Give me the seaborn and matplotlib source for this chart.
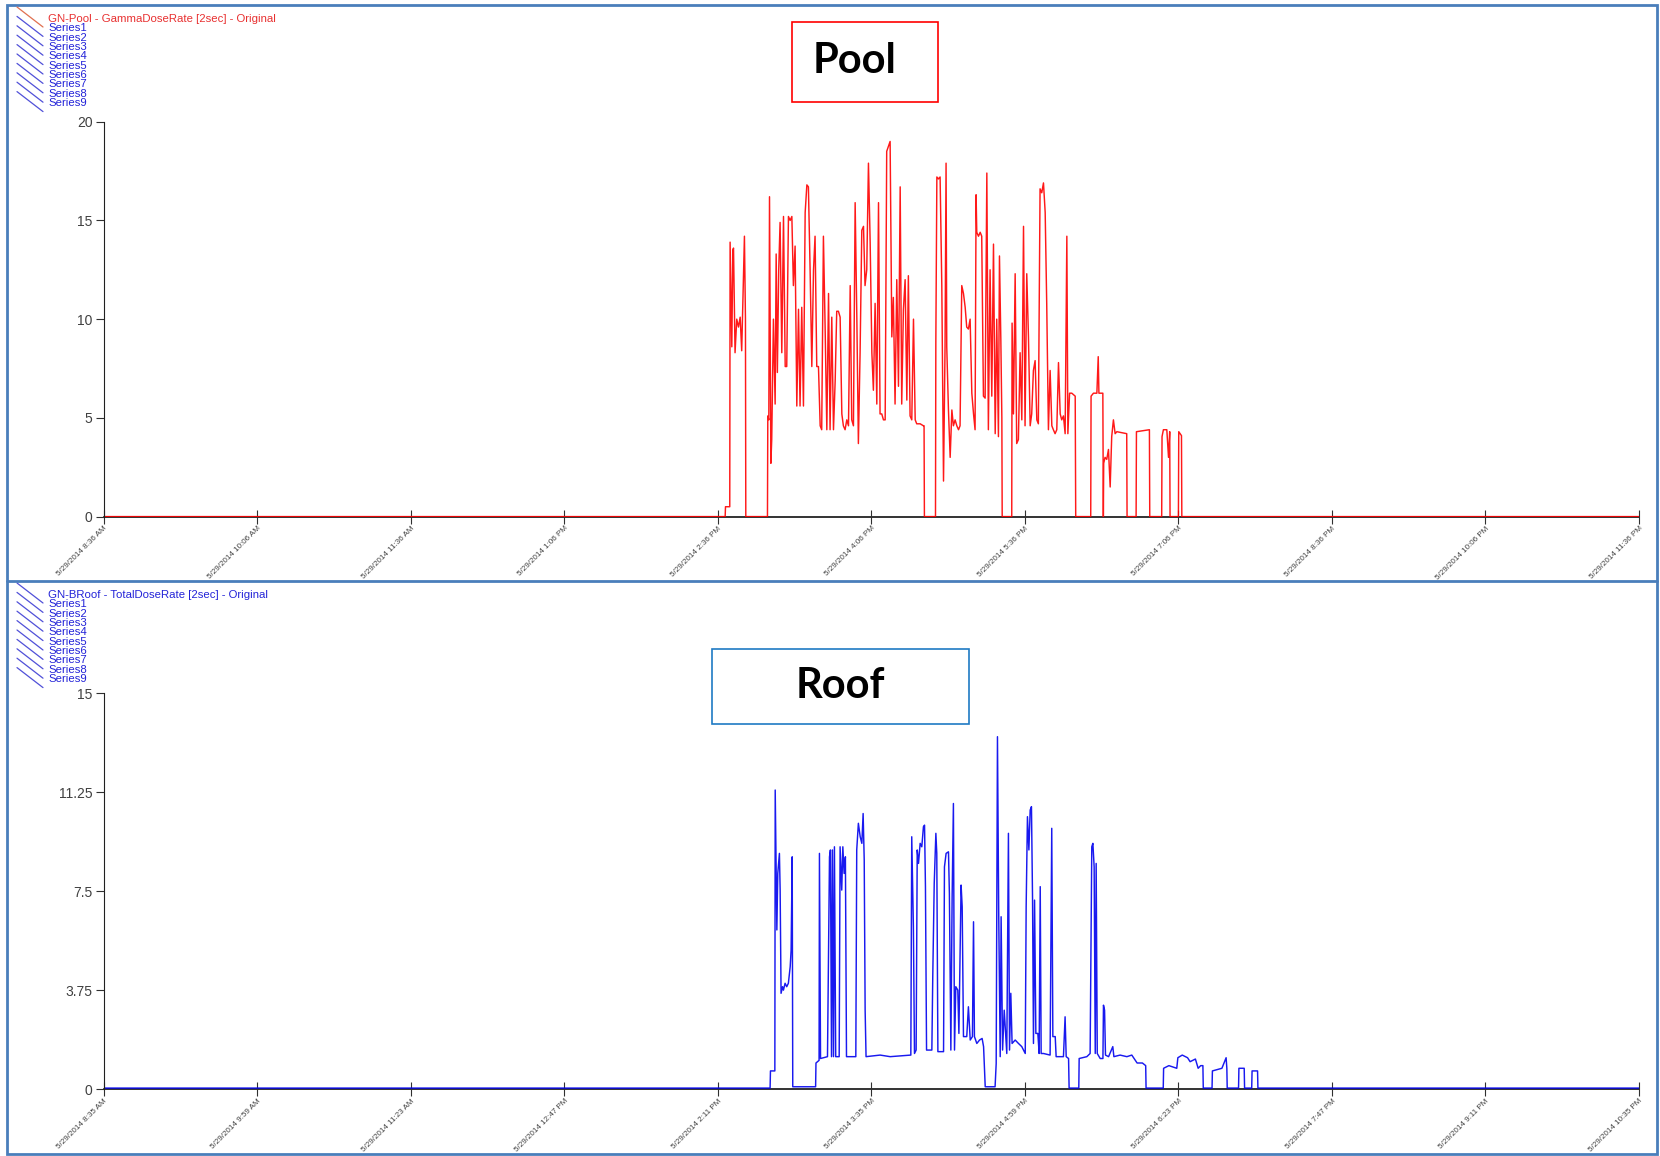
import matplotlib
matplotlib.use("Agg")
import matplotlib.pyplot as plt
from matplotlib.patches import Rectangle
from matplotlib.lines import Line2D
import numpy as np
import pandas as pd
import seaborn as sns

# Pool gamma dose rate: (minutes after 5/29/2014 8:36 AM, dose rate)
pool_trace = [
    (0, 0), (364.3, 0), (364.5, 0.5), (367.0, 0.5), (367.2, 13.9), (368.2, 8.6), (368.8, 13.5),
    (369.2, 13.6), (370.1, 8.3), (371.1, 10.0), (372.1, 9.6), (373.1, 10.1), (374.0, 8.4),
    (374.6, 10.5), (375.6, 14.2), (376.2, 10.0), (376.4, 0),
    (389.1, 0), (389.3, 5.1), (389.9, 4.9), (390.3, 16.2), (391.1, 2.7), (391.6, 3.9), (392.6, 10.0),
    (393.6, 5.7), (394.2, 13.3), (394.9, 7.3), (395.7, 12.5), (396.5, 14.9), (397.5, 8.3),
    (398.5, 15.2), (399.5, 7.6), (400.4, 7.6), (401.4, 15.2), (402.4, 15.0), (403.4, 15.2),
    (404.3, 11.7), (405.3, 13.7), (406.3, 5.6), (407.3, 10.5), (408.2, 5.6), (409.2, 10.6),
    (410.2, 5.6), (411.2, 15.4), (412.2, 16.8), (413.1, 16.7), (414.1, 12.5), (415.1, 7.6),
    (416.1, 12.5), (417.0, 14.2), (418.0, 7.6), (419.0, 7.6), (420.0, 4.6), (420.9, 4.4),
    (421.9, 14.2), (422.9, 9.6), (423.9, 4.4), (424.9, 11.3), (425.8, 4.4), (426.8, 10.1),
    (427.8, 4.4), (428.8, 6.9), (429.7, 10.4), (430.7, 10.4), (431.7, 10.1), (432.7, 5.2),
    (433.6, 4.6), (434.6, 4.4), (435.6, 4.9), (436.6, 4.6), (437.6, 11.7), (438.5, 4.9),
    (439.5, 4.6), (440.5, 15.9), (441.5, 10.0), (442.4, 3.7), (443.4, 8.3), (444.4, 14.5),
    (445.4, 14.7), (446.3, 11.7), (447.3, 12.5), (448.3, 17.9), (449.3, 13.9), (450.3, 8.3),
    (451.2, 6.4), (452.2, 10.8), (453.2, 5.7), (454.2, 15.9), (455.1, 5.2), (456.1, 5.2),
    (457.1, 4.9), (458.1, 4.9), (459.0, 18.5), (460.0, 18.75), (461.0, 19.0), (462.0, 9.1),
    (462.9, 11.1), (463.9, 5.7), (464.9, 12.0), (465.9, 6.6), (466.9, 16.7), (467.8, 5.7),
    (468.8, 10.5), (469.8, 12.0), (470.8, 5.9), (471.7, 12.2), (472.7, 5.1), (473.7, 4.9),
    (474.7, 10.0), (475.7, 4.9), (476.6, 4.7), (478.6, 4.7), (480.5, 4.6), (480.9, 4.6), (481.1, 0),
    (487.6, 0), (487.8, 8.8), (488.4, 17.2), (489.3, 17.1), (490.3, 17.2), (491.3, 11.7),
    (492.3, 1.8), (493.2, 8.6), (493.8, 17.9), (494.2, 8.6), (495.2, 5.4), (496.2, 3.0),
    (497.2, 5.4), (498.1, 4.6), (499.1, 4.9), (500.1, 4.6), (501.1, 4.4), (502.0, 4.6),
    (503.0, 11.7), (504.0, 11.3), (505.0, 10.6), (505.9, 9.6), (506.9, 9.5), (507.9, 10.0),
    (508.9, 6.25), (509.9, 5.2), (510.8, 4.4), (511.4, 16.3), (511.8, 14.4), (512.8, 14.2),
    (513.8, 14.4), (514.7, 14.2), (515.7, 6.1), (516.7, 6.0), (517.7, 17.4), (518.6, 4.4),
    (519.6, 12.5), (520.6, 6.1), (521.6, 13.8), (522.6, 4.2), (523.5, 10.0), (524.5, 4.05),
    (525.1, 13.2), (525.9, 9.0), (526.5, 5.0), (526.7, 0),
    (532.3, 0), (532.5, 9.8), (533.3, 5.2), (534.3, 12.3), (535.2, 3.7), (536.2, 3.9),
    (537.2, 8.3), (538.2, 4.9), (539.2, 14.7), (540.1, 4.6), (541.1, 12.3), (542.1, 9.1),
    (543.1, 4.6), (544.0, 5.2), (545.0, 7.4), (546.0, 7.9), (547.0, 4.9), (547.9, 4.7),
    (548.9, 16.6), (549.9, 16.4), (550.9, 16.9), (551.9, 15.4), (552.8, 10.8), (553.8, 4.4),
    (554.8, 7.4), (555.8, 4.6), (556.7, 4.4), (557.7, 4.2), (558.7, 4.4), (559.7, 7.8),
    (560.7, 5.2), (561.6, 4.9), (562.6, 5.1), (563.6, 4.2), (564.6, 14.2), (565.2, 4.2),
    (566.2, 6.25), (567.5, 6.25), (569.5, 6.1), (569.8, 0),
    (578.6, 0), (578.8, 6.1), (580.2, 6.25), (582.2, 6.25), (583.0, 8.1), (583.4, 6.25),
    (585.7, 6.25), (586.0, 0), (586.2, 2.7), (587.0, 3.0), (588.0, 2.9), (589.0, 3.4),
    (590.0, 1.5), (590.9, 4.05), (591.9, 4.9), (592.9, 4.2), (593.9, 4.3), (599.7, 4.2), (599.9, 0),
    (605.2, 0), (605.4, 4.3), (613.0, 4.4), (613.2, 0),
    (620.2, 0), (620.4, 4.05), (621.2, 4.4), (623.2, 4.4), (624.2, 3.0), (624.9, 4.3), (625.1, 0),
    (630.0, 0), (630.2, 4.3), (631.8, 4.1), (632.0, 0), (900, 0),
]

# Roof total dose rate: (minutes after 5/29/2014 8:35 AM, dose rate)
roof_trace = [
    (0, 0.05), (364.6, 0.05), (364.8, 0.7), (367.2, 0.7), (367.4, 11.34), (368.3, 6.04),
    (368.8, 8.18), (369.7, 8.94), (370.1, 7.55), (370.6, 3.64), (371.4, 3.89), (371.9, 3.76),
    (372.8, 4.02), (373.7, 3.89), (374.6, 4.02), (375.6, 4.65), (376.1, 5.28), (376.7, 8.81),
    (377.0, 0.1), (389.5, 0.1), (389.7, 1.0), (391.4, 1.1), (391.6, 8.94), (392.2, 1.17),
    (396.0, 1.24), (397.1, 8.81), (397.6, 9.07), (398.2, 1.24), (398.7, 9.07), (399.3, 1.24),
    (399.8, 9.19), (400.5, 1.24), (402.4, 1.24), (402.9, 9.19), (403.8, 7.55), (404.4, 9.19),
    (405.1, 8.18), (405.8, 8.81), (406.4, 1.24), (411.5, 1.24), (412.0, 9.07), (412.9, 10.08),
    (413.9, 9.57), (414.8, 9.32), (415.5, 10.45), (416.1, 8.69), (416.6, 3.0), (417.1, 1.24),
    (424.8, 1.3), (430.3, 1.24), (435.8, 1.27), (441.6, 1.3), (442.1, 9.57), (443.0, 6.16),
    (443.6, 1.36), (444.5, 1.49), (445.1, 9.07), (445.8, 8.56), (446.7, 9.32), (447.6, 9.19),
    (448.5, 9.95), (449.1, 10.01), (449.6, 7.68), (450.2, 1.49), (453.1, 1.49), (453.6, 4.27),
    (454.4, 7.8), (455.3, 9.7), (455.8, 8.94), (456.4, 1.43), (459.5, 1.43), (460.0, 8.43),
    (460.9, 8.94), (462.2, 9.0), (462.7, 7.42), (463.5, 1.49), (464.2, 7.3), (464.9, 10.83),
    (465.5, 1.49), (466.2, 3.89), (467.3, 3.76), (467.9, 2.12), (469.1, 7.74), (469.7, 6.92),
    (470.4, 2.0), (472.2, 2.0), (473.1, 3.13), (474.1, 1.87), (475.3, 2.0), (475.9, 6.35),
    (476.4, 2.0), (477.7, 1.74), (479.2, 1.87), (480.6, 1.93), (481.4, 1.62), (482.3, 0.1),
    (487.7, 0.1), (488.3, 0.98), (489.0, 13.36), (489.7, 6.54), (490.5, 1.24), (491.0, 6.54),
    (491.8, 1.49), (492.7, 3.0), (494.1, 1.36), (495.0, 9.7), (495.6, 1.49), (496.3, 3.64),
    (497.0, 1.74), (498.7, 1.87), (500.5, 1.74), (502.3, 1.62), (504.2, 1.36), (504.7, 6.92),
    (505.4, 10.33), (506.2, 9.07), (506.9, 10.58), (507.6, 10.71), (508.2, 7.17), (508.7, 1.74),
    (509.3, 7.17), (510.0, 2.12), (511.1, 2.12), (511.8, 1.36), (512.4, 7.68), (512.9, 1.36),
    (514.2, 1.36), (517.8, 1.3), (518.7, 9.89), (519.3, 2.0), (520.6, 2.0), (521.1, 1.24),
    (525.1, 1.24), (526.0, 2.75), (526.6, 1.24), (527.9, 1.17), (528.2, 0.05),
    (533.5, 0.05), (533.7, 1.17), (537.9, 1.24), (539.7, 1.36), (540.6, 9.19), (541.2, 9.32),
    (541.9, 8.43), (542.5, 1.36), (543.0, 8.56), (543.6, 1.36), (545.2, 1.17), (546.7, 1.17),
    (547.0, 3.19), (547.6, 3.0), (548.1, 1.3), (549.8, 1.24), (552.1, 1.62), (552.7, 1.24),
    (556.1, 1.3), (559.8, 1.24), (562.5, 1.3), (565.4, 1.0), (568.3, 1.0), (570.1, 0.9),
    (570.3, 0.05), (579.7, 0.05), (579.9, 0.8), (582.8, 0.9), (587.1, 0.8), (587.7, 1.2),
    (590.1, 1.3), (593.0, 1.2), (594.4, 1.05), (597.3, 1.15), (598.8, 0.8), (600.2, 0.9),
    (601.4, 0.9), (601.6, 0.05), (606.4, 0.05), (606.6, 0.7), (611.8, 0.8), (614.1, 1.2),
    (614.5, 0.8), (614.7, 0.05), (620.9, 0.05), (621.1, 0.8), (624.0, 0.8), (624.2, 0.05),
    (628.1, 0.05), (628.3, 0.7), (631.3, 0.7), (631.5, 0.05), (840, 0.05),
]

pool_ticks = [0, 90, 180, 270, 360, 450, 540, 630, 720, 810, 900]
pool_tick_labels = [
    "5/29/2014 8:36 AM", "5/29/2014 10:06 AM", "5/29/2014 11:36 AM", "5/29/2014 1:06 PM",
    "5/29/2014 2:36 PM", "5/29/2014 4:06 PM", "5/29/2014 5:36 PM", "5/29/2014 7:06 PM",
    "5/29/2014 8:36 PM", "5/29/2014 10:06 PM", "5/29/2014 11:36 PM",
]
pool_yticks = [0, 5, 10, 15, 20]

roof_ticks = [0, 84, 168, 252, 336, 420, 504, 588, 672, 756, 840]
roof_tick_labels = [
    "5/29/2014 8:35 AM", "5/29/2014 9:59 AM", "5/29/2014 11:23 AM", "5/29/2014 12:47 PM",
    "5/29/2014 2:11 PM", "5/29/2014 3:35 PM", "5/29/2014 4:59 PM", "5/29/2014 6:23 PM",
    "5/29/2014 7:47 PM", "5/29/2014 9:11 PM", "5/29/2014 10:35 PM",
]
roof_yticks = [0, 3.75, 7.5, 11.25, 15]
roof_ytick_labels = ["0", "3.75", "7.5", "11.25", "15"]

series_names = ["Series%d" % i for i in range(1, 10)]

W, H = 1660, 1156

sns.set_style("ticks")
plt.rcParams["font.family"] = ["Liberation Sans", "DejaVu Sans"]


def fx(x):
    return x / W


def fy(y):
    return 1 - y / H


def draw_panel(ax, trace, color, ticks, tick_labels, yticks, ytick_labels, ymax):
    df = pd.DataFrame(trace, columns=["minutes", "dose"])
    sns.lineplot(data=df, x="minutes", y="dose", ax=ax, color=color, linewidth=1.05,
                 estimator=None, sort=False, alpha=0.9)
    ax.set_xlim(ticks[0], ticks[-1])
    ax.set_ylim(0, ymax)
    ax.set_xticks(ticks)
    ax.set_xticklabels(tick_labels, rotation=45, ha="right", va="top",
                       rotation_mode="anchor", fontsize=5.8, color="#404040")
    ax.set_yticks(yticks)
    ax.set_yticklabels(ytick_labels, fontsize=10, color="#404040")
    ax.set_xlabel("")
    ax.set_ylabel("")
    ax.tick_params(axis="x", direction="inout", length=10, width=0.8, pad=1, color="#303030")
    ax.tick_params(axis="y", direction="out", length=6, width=0.8, pad=2, color="#303030")
    for side in ["top", "right"]:
        ax.spines[side].set_visible(False)
    ax.spines["left"].set_color("#202020")
    ax.spines["left"].set_linewidth(0.8)
    ax.spines["bottom"].set_color("#101010")
    ax.spines["bottom"].set_linewidth(1.2)
    ax.spines["bottom"].set_zorder(0.5)
    ax.patch.set_alpha(0)


def draw_legend(fig, y0, title, title_color, first_line_color):
    for k in range(10):
        c = first_line_color if k == 0 else "#5050d8"
        fig.add_artist(Line2D([fx(17), fx(43)], [fy(y0 - 12 + 9.4 * k), fy(y0 + 8 + 9.4 * k)],
                              color=c, linewidth=0.9, transform=fig.transFigure))
    fig.text(fx(48), fy(y0), title, color=title_color, fontsize=8.2, va="center", ha="left")
    for i, name in enumerate(series_names):
        fig.text(fx(48), fy(y0 + 9.35 * (i + 1)), name, color="#2323d8",
                 fontsize=8.2, va="center", ha="left")


fig = plt.figure(figsize=(W / 100, H / 100), dpi=100)

ax_pool = fig.add_axes([fx(103.7), fy(516.6), fx(1639) - fx(103.7), (516.6 - 121.7) / H])
draw_panel(ax_pool, pool_trace, "#ff0000", pool_ticks, pool_tick_labels,
           pool_yticks, [str(v) for v in pool_yticks], 20)

ax_roof = fig.add_axes([fx(103.7), fy(1089.4), fx(1639) - fx(103.7), (1089.4 - 693.4) / H])
draw_panel(ax_roof, roof_trace, "#0000ee", roof_ticks, roof_tick_labels,
           roof_yticks, roof_ytick_labels, 15)

# legends in the top-left corner of each panel
draw_legend(fig, 19, "GN-Pool - GammaDoseRate [2sec] - Original", "#e83030", "#e07050")
draw_legend(fig, 595, "GN-BRoof - TotalDoseRate [2sec] - Original", "#2323d8", "#5050d8")

# titled boxes
fig.add_artist(Rectangle((fx(792), fy(102)), fx(938) - fx(792), (102 - 22) / H,
                         transform=fig.transFigure, fill=False, edgecolor="#ff0000", linewidth=1.2))
fig.text(fx(813), fy(61), "Pool", fontsize=30, fontweight="bold", family=["Lato", "DejaVu Sans"],
         color="black", va="center", ha="left")
fig.add_artist(Rectangle((fx(712), fy(724)), fx(969) - fx(712), (724 - 649) / H,
                         transform=fig.transFigure, fill=False, edgecolor="#1f7ac4", linewidth=1.2))
fig.text(fx(840), fy(686), "Roof", fontsize=30, fontweight="bold", family=["Lato", "DejaVu Sans"],
         color="black", va="center", ha="center")

# outer frame and separator
frame_color = "#4a7ebb"
fig.add_artist(Rectangle((fx(7), fy(1154)), fx(1657) - fx(7), (1154 - 5) / H,
                         transform=fig.transFigure, fill=False, edgecolor=frame_color, linewidth=2))
fig.add_artist(Line2D([fx(7), fx(1657)], [fy(581), fy(581)], color=frame_color,
                      linewidth=2, transform=fig.transFigure))

fig.savefig("out.png", dpi=100)
